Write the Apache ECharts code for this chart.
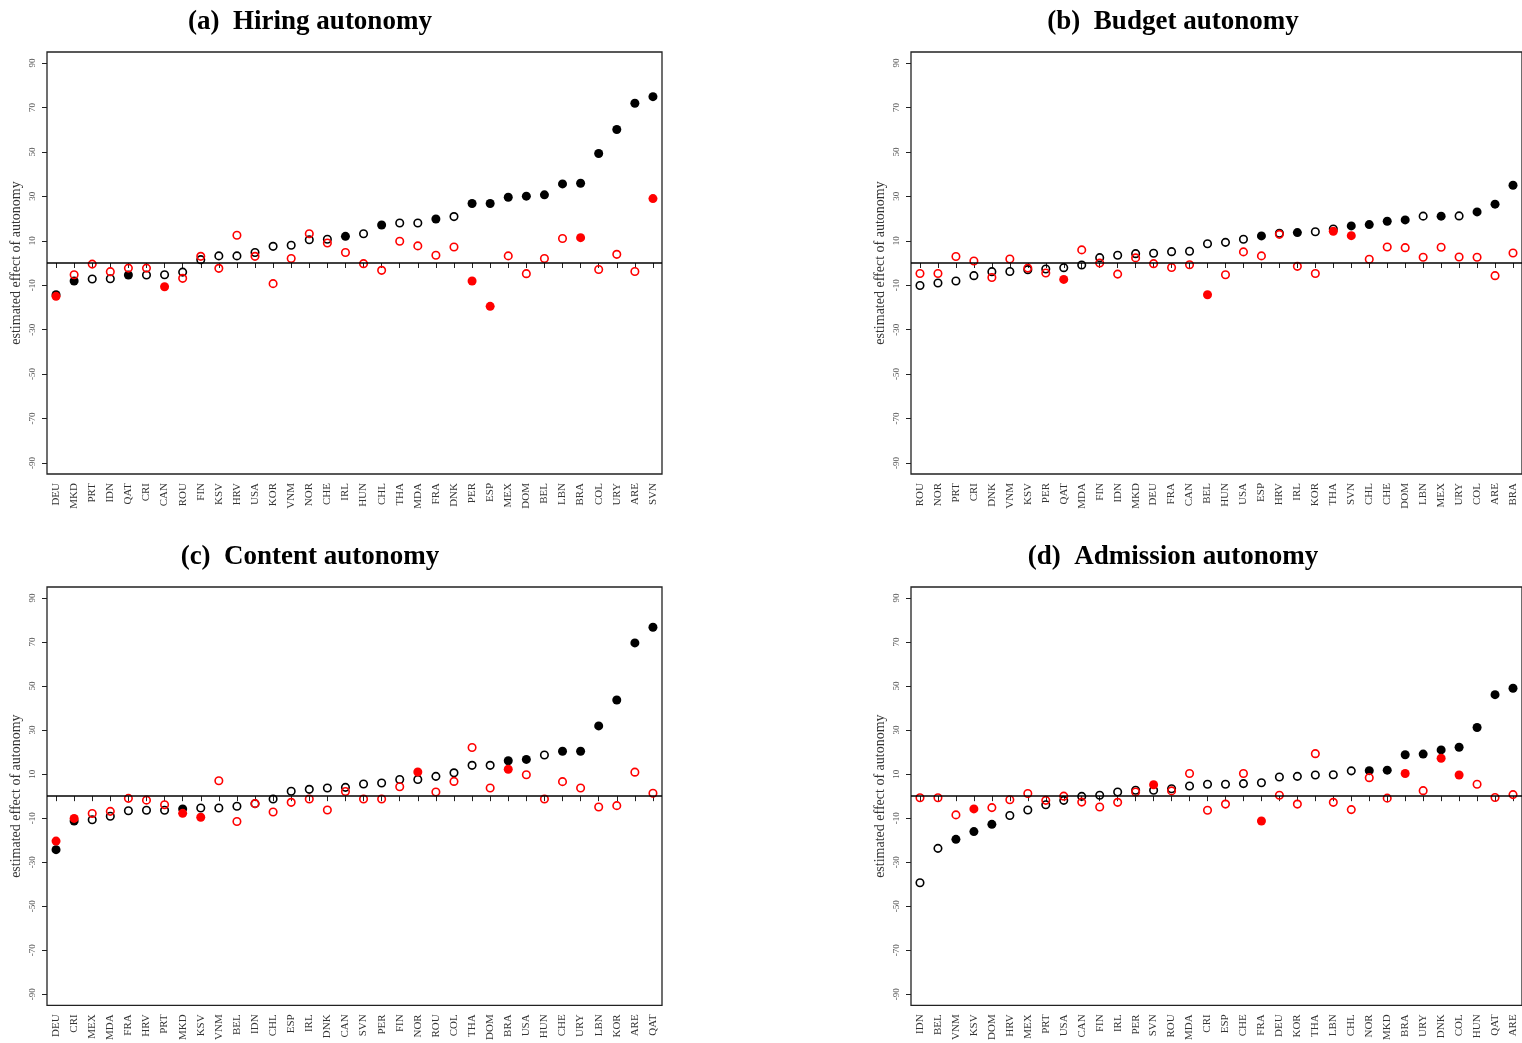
<!DOCTYPE html>
<html>
<head>
<meta charset="utf-8">
<script src="https://cdn.jsdelivr.net/npm/echarts@6/dist/echarts.min.js"></script>
<style>
  html, body { margin: 0; padding: 0; background: #fff; }
  #chart { width: 1522px; height: 1043px; }
</style>
</head>
<body>
<div id="chart"></div>
<script>
// ---- (a) Hiring autonomy ----
const hiringCountries = ['DEU','MKD','PRT','IDN','QAT','CRI','CAN','ROU','FIN','KSV','HRV','USA','KOR','VNM','NOR','CHE','IRL','HUN','CHL','THA','MDA','FRA','DNK','PER','ESP','MEX','DOM','BEL','LBN','BRA','COL','URY','ARE','SVN'];
const hiringBlack = [-14.3,-8.1,-7.2,-7.1,-5.4,-5.4,-5.3,-4.1,1.5,3.2,3.2,4.7,7.5,8.0,10.5,10.7,12.0,13.2,17.1,18.0,18.0,19.8,20.9,26.8,26.8,29.6,30.1,30.7,35.6,35.9,49.3,60.1,71.9,74.9];
const hiringBlackSig = [1,1,0,0,1,0,0,0,0,0,0,0,0,0,0,0,1,0,1,0,0,1,0,1,1,1,1,1,1,1,1,1,1,1];
const hiringRed = [-15.0,-5.3,-0.5,-3.9,-2.3,-2.3,-10.7,-6.9,3.0,-2.4,12.5,3.0,-9.3,2.0,13.2,9.0,4.7,-0.3,-3.3,9.8,7.7,3.5,7.2,-8.1,-19.5,3.2,-4.8,2.0,11.0,11.4,-2.9,3.9,-3.8,29.0];
const hiringRedSig = [1,0,0,0,0,0,1,0,0,0,0,0,0,0,0,0,0,0,0,0,0,0,0,1,1,0,0,0,0,1,0,0,0,1];

// ---- (b) Budget autonomy ----
const budgetCountries = ['ROU','NOR','PRT','CRI','DNK','VNM','KSV','PER','QAT','MDA','FIN','IDN','MKD','DEU','FRA','CAN','BEL','HUN','USA','ESP','HRV','IRL','KOR','THA','SVN','CHL','CHE','DOM','LBN','MEX','URY','COL','ARE','BRA'];
const budgetBlack = [-10.1,-9.0,-8.1,-5.7,-3.9,-3.8,-3.0,-2.7,-2.1,-0.9,2.4,3.5,4.2,4.4,5.1,5.3,8.7,9.3,10.7,12.2,13.4,13.7,14.1,15.3,16.7,17.3,18.8,19.4,21.1,21.1,21.2,23.0,26.5,35.0];
const budgetBlackSig = [0,0,0,0,0,0,0,0,0,0,0,0,0,0,0,0,0,0,0,1,0,1,0,0,1,1,1,1,0,1,0,1,1,1];
const budgetRed = [-4.7,-4.7,2.9,0.9,-6.5,1.8,-2.3,-4.5,-7.4,5.9,0.0,-5.0,2.3,-0.3,-2.0,-0.8,-14.3,-5.3,5.0,3.2,12.9,-1.5,-4.7,14.3,12.3,1.7,7.2,6.9,2.6,7.1,2.7,2.6,-5.7,4.5];
const budgetRedSig = [0,0,0,0,0,0,0,0,1,0,0,0,0,0,0,0,1,0,0,0,0,0,0,1,1,0,0,0,0,0,0,0,0,0];

// ---- (c) Content autonomy ----
const contentCountries = ['DEU','CRI','MEX','MDA','FRA','HRV','PRT','MKD','KSV','VNM','BEL','IDN','CHL','ESP','IRL','DNK','CAN','SVN','PER','FIN','NOR','ROU','COL','THA','DOM','BRA','USA','HUN','CHE','URY','LBN','KOR','ARE','QAT'];
const contentBlack = [-24.3,-11.3,-10.7,-9.1,-6.6,-6.4,-6.4,-5.8,-5.4,-5.4,-4.6,-3.4,-1.3,2.2,3.1,3.7,4.0,5.5,6.0,7.6,7.6,9.0,10.6,14.0,14.0,16.1,16.7,18.7,20.4,20.4,31.9,43.7,69.6,76.7];
const contentBlackSig = [1,1,0,0,0,0,0,1,0,0,0,0,0,0,0,0,0,0,0,0,0,0,0,0,0,1,1,0,1,1,1,1,1,1];
const contentRed = [-20.4,-10.1,-7.9,-6.9,-1.0,-1.8,-3.9,-7.8,-9.6,7.0,-11.5,-3.4,-7.2,-2.8,-1.3,-6.3,2.1,-1.3,-1.3,4.3,11.0,1.9,6.7,22.1,3.7,12.2,9.7,-1.3,6.6,3.7,-4.9,-4.3,10.9,1.3];
const contentRedSig = [1,1,0,0,0,0,0,1,1,0,0,0,0,0,0,0,0,0,0,0,1,0,0,0,0,1,0,0,0,0,0,0,0,0];

// ---- (d) Admission autonomy ----
const admissionCountries = ['IDN','BEL','VNM','KSV','DOM','HRV','MEX','PRT','USA','CAN','FIN','IRL','PER','SVN','ROU','MDA','CRI','ESP','CHE','FRA','DEU','KOR','THA','LBN','CHL','NOR','MKD','BRA','URY','DNK','COL','HUN','QAT','ARE'];
const admissionBlack = [-39.3,-23.7,-19.6,-16.1,-12.8,-8.8,-6.3,-3.9,-1.9,-0.1,0.4,1.9,2.7,2.7,3.4,4.6,5.4,5.4,5.7,6.1,8.7,9.0,9.6,9.7,11.5,11.6,11.8,18.8,19.1,21.0,22.2,31.2,46.1,49.0];
const admissionBlackSig = [0,0,1,1,1,0,0,0,0,0,0,0,0,0,0,0,0,0,0,0,0,0,0,0,0,1,1,1,1,1,1,1,1,1];
const admissionRed = [-0.7,-0.7,-8.5,-5.8,-5.2,-1.6,1.2,-1.9,0.0,-2.7,-4.9,-2.8,1.9,5.2,2.4,10.3,-6.4,-3.6,10.3,-11.3,0.4,-3.6,19.3,-2.8,-6.1,8.4,-0.9,10.3,2.5,17.2,9.6,5.4,-0.6,0.7];
const admissionRedSig = [0,0,0,1,0,0,0,0,0,0,0,0,0,1,0,0,0,0,0,1,0,0,0,0,0,0,0,1,0,1,1,0,0,0];

const yTicks = [-90,-70,-50,-30,-10,10,30,50,70,90];

const panels = [
  { title: '(a)  Hiring autonomy',    cats: hiringCountries,    black: hiringBlack,    blackSig: hiringBlackSig,    red: hiringRed,    redSig: hiringRedSig },
  { title: '(b)  Budget autonomy',    cats: budgetCountries,    black: budgetBlack,    blackSig: budgetBlackSig,    red: budgetRed,    redSig: budgetRedSig },
  { title: '(c)  Content autonomy',   cats: contentCountries,   black: contentBlack,   blackSig: contentBlackSig,   red: contentRed,   redSig: contentRedSig },
  { title: '(d)  Admission autonomy', cats: admissionCountries, black: admissionBlack, blackSig: admissionBlackSig, red: admissionRed, redSig: admissionRedSig }
];

// plot-box placement for the 2x2 layout
const boxes = [
  { left: 47,  top: 52,  titleX: 310,  titleY: 22 },
  { left: 911, top: 52,  titleX: 1173, titleY: 22 },
  { left: 47,  top: 587, titleX: 310,  titleY: 557 },
  { left: 911, top: 587, titleX: 1173, titleY: 557 }
];
const BOX_W = 615, BOX_H = 422;
const SERIF = '"Liberation Serif", "DejaVu Serif", serif';

function pointItems(values, sig, color) {
  return values.map((v, i) => sig[i]
    ? { value: v, symbolSize: 9, itemStyle: { color: color, borderWidth: 0, opacity: 1 } }
    : { value: v, symbolSize: 7.5, itemStyle: { color: 'rgba(0,0,0,0)', borderColor: color, borderWidth: 1.6, opacity: 1 } });
}

const grid = [], xAxis = [], yAxis = [], series = [], graphic = [];

panels.forEach((p, k) => {
  const b = boxes[k];
  grid.push({ left: b.left, top: b.top, width: BOX_W, height: BOX_H, show: true,
              borderColor: '#222', borderWidth: 1.3, backgroundColor: 'transparent', containLabel: false });
  xAxis.push({
    type: 'category', gridIndex: k, data: p.cats, boundaryGap: true,
    axisLine: { show: false },
    axisTick: { show: true, alignWithLabel: true, length: 5, lineStyle: { color: '#222', width: 1 } },
    axisLabel: { interval: 0, rotate: 90, fontSize: 11, fontFamily: SERIF, color: '#333', margin: 9 },
    splitLine: { show: false }
  });
  yAxis.push({
    type: 'value', gridIndex: k, min: -95, max: 95,
    name: 'estimated effect of autonomy', nameLocation: 'middle', nameGap: 24, nameRotate: 90,
    nameTextStyle: { fontSize: 14, fontFamily: SERIF, color: '#333' },
    axisLine: { show: false },
    axisTick: { show: true, length: 5, customValues: yTicks, lineStyle: { color: '#222', width: 1 } },
    axisLabel: { rotate: 90, fontSize: 9, fontFamily: SERIF, color: '#555', margin: 10, customValues: yTicks },
    splitLine: { show: false }
  });
  series.push({
    type: 'scatter', xAxisIndex: k, yAxisIndex: k, symbol: 'circle',
    data: pointItems(p.black, p.blackSig, '#000'),
    silent: true, z: 3,
    markLine: {
      silent: true, symbol: 'none', label: { show: false },
      lineStyle: { color: '#000', width: 1.5, type: 'solid', opacity: 1 },
      data: [{ yAxis: 0 }]
    }
  });
  series.push({
    type: 'scatter', xAxisIndex: k, yAxisIndex: k, symbol: 'circle',
    data: pointItems(p.red, p.redSig, '#ff0000'),
    silent: true, z: 4
  });
  graphic.push({
    type: 'text', x: b.titleX, y: b.titleY,
    style: { text: p.title, fontSize: 27, fontWeight: 'bold', fontFamily: SERIF, fill: '#000',
             textAlign: 'center', textVerticalAlign: 'middle' }
  });
});

const chart = echarts.init(document.getElementById('chart'), null, { renderer: 'canvas' });
chart.setOption({
  animation: false,
  backgroundColor: '#fff',
  grid, xAxis, yAxis, series, graphic
});
</script>
</body>
</html>
